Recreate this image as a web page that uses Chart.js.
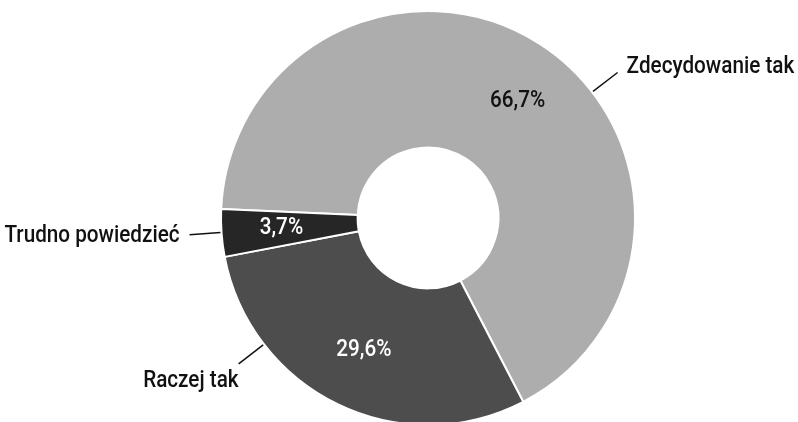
<!DOCTYPE html>
<html lang="pl">
<head>
<meta charset="utf-8">
<title>Odpowiedzi</title>
<script src="https://cdn.jsdelivr.net/npm/chart.js@4/dist/chart.umd.min.js"></script>
<style>
  html, body { margin: 0; padding: 0; background: #fff; overflow: hidden; }
  #wrap { width: 798px; height: 436px; }
</style>
</head>
<body>
<div id="wrap"><canvas id="answersChart" width="798" height="436"></canvas></div>
<script>
// answers and their shares (percent)
const categories = ['Zdecydowanie tak', 'Raczej tak', 'Trudno powiedzieć'];
const shares = [66.7, 29.6, 3.7];
const percentLabels = ['66,7%', '29,6%', '3,7%'];
const sliceColors = ['#adadad', '#4d4d4d', '#262626'];

const FONT = '500 23px Roboto, "Noto Sans", sans-serif';
const SQUEEZE = 0.9; // narrow the glyphs, the labels use a condensed face

function drawText(ctx, text, x, y, align, baseline, color) {
    ctx.save();
    ctx.translate(x, y);
    ctx.scale(SQUEEZE, 1);
    ctx.font = FONT;
    ctx.fillStyle = color;
    ctx.textAlign = align;
    ctx.textBaseline = baseline;
    ctx.fillText(text, 0, 0);
    ctx.restore();
}

// percent values inside the ring, category names outside with short leader lines
const sliceLabels = {
    id: 'sliceLabels',
    afterDatasetsDraw(chart, args, opts) {
        const { ctx } = chart;
        const arcs = chart.getDatasetMeta(0).data;
        arcs.forEach((arc, i) => {
            const { x, y, startAngle, endAngle, outerRadius } = arc.getProps(
                ['x', 'y', 'startAngle', 'endAngle', 'outerRadius'], true);

            // value label
            const mid = (startAngle + endAngle) / 2 + (opts.valueShift[i] || 0) * Math.PI / 180;
            const rv = outerRadius * 0.71;
            drawText(ctx, percentLabels[i], x + Math.cos(mid) * rv, y + Math.sin(mid) * rv,
                'center', 'middle', opts.valueColors[i]);

            // callout
            const c = opts.callouts[i];
            const a = c.angle * Math.PI / 180;
            const r0 = outerRadius + 1, r1 = outerRadius + 32;
            const x0 = x + Math.cos(a) * r0, y0 = y + Math.sin(a) * r0;
            const x1 = x + Math.cos(a) * r1, y1 = y + Math.sin(a) * r1;
            ctx.save();
            ctx.strokeStyle = '#111';
            ctx.lineWidth = 1.5;
            ctx.beginPath();
            ctx.moveTo(x0, y0);
            ctx.lineTo(x1, y1);
            ctx.stroke();
            ctx.restore();
            drawText(ctx, categories[i], x1 + c.dx, y1 + c.dy, c.align, c.baseline, '#111');
        });
    }
};

new Chart(document.getElementById('answersChart'), {
    type: 'doughnut',
    data: {
        labels: categories,
        datasets: [{
            data: shares,
            backgroundColor: sliceColors,
            borderColor: '#ffffff',
            borderWidth: 2
        }]
    },
    options: {
        responsive: false,
        maintainAspectRatio: false,
        animation: false,
        events: [],
        rotation: -87.5,
        cutout: '34%',
        layout: { padding: { top: 10, bottom: 10, left: 58, right: 0 } },
        plugins: {
            legend: { display: false },
            tooltip: { enabled: false },
            title: { display: false },
            sliceLabels: {
                valueColors: ['#111111', '#ffffff', '#ffffff'],
                valueShift: [5, 0, 0],
                callouts: [
                    { angle: -37.5, dx: 9, dy: -5, align: 'left', baseline: 'middle' },
                    { angle: 142.4, dx: 0, dy: 6, align: 'right', baseline: 'top' },
                    { angle: 176, dx: -10, dy: 2, align: 'right', baseline: 'middle' }
                ]
            }
        }
    },
    plugins: [sliceLabels]
});
</script>
</body>
</html>
